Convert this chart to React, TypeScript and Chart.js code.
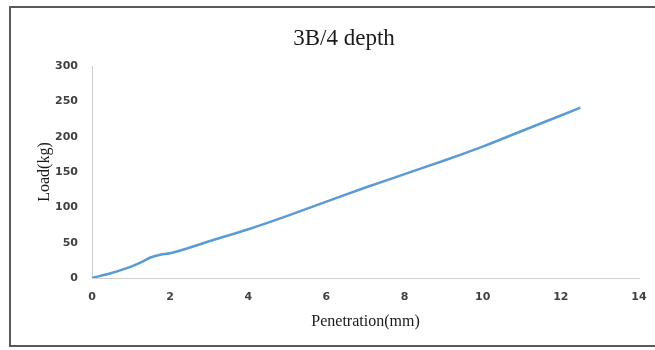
import React, { useEffect, useRef } from "react";
import { Chart, registerables } from "chart.js";

Chart.register(...registerables);

const penetration = [0, 0.5, 1, 1.25, 1.5, 1.75, 2, 3, 4, 5, 6, 7, 8, 9, 10, 11, 12, 12.5];
const load = [0, 7, 16, 22, 29, 33, 35, 52, 69, 88, 108, 128, 147, 166, 186, 208, 230, 241];
const xTicks = [0, 2, 4, 6, 8, 10, 12, 14];
const yTicks = [0, 50, 100, 150, 200, 250, 300];
const titleText = "3B/4 depth";
const xTitle = "Penetration(mm)";
const yTitle = "Load(kg)";

const titlePlugin = {
  id: "frameTitle",
  afterDraw(chart: any) {
    const ctx = chart.ctx;
    ctx.save();
    ctx.font = "23px 'Liberation Serif', serif";
    ctx.fillStyle = "#1a1a1a";
    ctx.textAlign = "center";
    ctx.textBaseline = "middle";
    // centred on the full chart frame (which extends past the visible window)
    ctx.fillText(titleText, 344, 39);
    ctx.restore();
  },
};

export default function App() {
  const ref = useRef<HTMLCanvasElement | null>(null);

  useEffect(() => {
    if (!ref.current) return;
    const tickFont = { family: "'DejaVu Sans', sans-serif", size: 11, weight: "bold" as const };
    const chart = new Chart(ref.current, {
      type: "line",
      data: {
        datasets: [
          {
            label: "Load",
            data: penetration.map((x, i) => ({ x, y: load[i] })),
            borderColor: "#5b9bd5",
            borderWidth: 2.5,
            pointRadius: 0,
            cubicInterpolationMode: "monotone",
            fill: false,
          },
        ],
      },
      options: {
        responsive: false,
        animation: false,
        devicePixelRatio: 1,
        layout: { padding: { left: 0, right: 49, top: 66, bottom: 0 } },
        plugins: {
          legend: { display: false },
          tooltip: { enabled: false },
          title: { display: false },
        },
        scales: {
          x: {
            type: "linear",
            min: xTicks[0],
            max: xTicks[xTicks.length - 1],
            afterBuildTicks: (s: any) => {
              s.ticks = xTicks.map((v) => ({ value: v }));
            },
            afterFit: (s: any) => {
              s.height = 72;
              s.paddingLeft = 0;
              s.paddingRight = 0;
            },
            ticks: { color: "#404040", font: tickFont, padding: 13, maxRotation: 0 },
            grid: { display: true, drawOnChartArea: false, drawTicks: false },
            border: { display: true, color: "#d0d0d0", width: 1 },
            title: {
              display: true,
              text: xTitle,
              color: "#1a1a1a",
              font: { family: "'Liberation Serif', serif", size: 16, weight: "normal" },
              padding: { top: 0, bottom: 18.6 },
            },
          },
          y: {
            type: "linear",
            min: yTicks[0],
            max: yTicks[yTicks.length - 1],
            afterBuildTicks: (s: any) => {
              s.ticks = yTicks.map((v) => ({ value: v }));
            },
            afterFit: (s: any) => {
              s.width = 92;
              s.paddingTop = 0;
              s.paddingBottom = 0;
            },
            ticks: { color: "#404040", font: tickFont, padding: 14 },
            grid: { display: true, drawOnChartArea: false, drawTicks: false },
            border: { display: true, color: "#d0d0d0", width: 1 },
            title: {
              display: true,
              text: yTitle,
              color: "#1a1a1a",
              font: { family: "'Liberation Serif', serif", size: 16, weight: "normal" },
              padding: { top: 35.4, bottom: 0 },
            },
          },
        },
      },
      plugins: [titlePlugin],
    } as any);
    return () => chart.destroy();
  }, []);

  return (
    <div
      style={{
        position: "fixed",
        left: 0,
        top: 0,
        width: 655,
        height: 350,
        overflow: "hidden",
        background: "#fff",
      }}
    >
      <canvas ref={ref} width={688} height={350} style={{ position: "absolute", left: 0, top: 0 }} />
      <div
        style={{
          position: "absolute",
          left: 9,
          top: 6,
          width: 700,
          height: 341,
          border: "2px solid #5a5a5a",
          boxSizing: "border-box",
          pointerEvents: "none",
        }}
      />
    </div>
  );
}
